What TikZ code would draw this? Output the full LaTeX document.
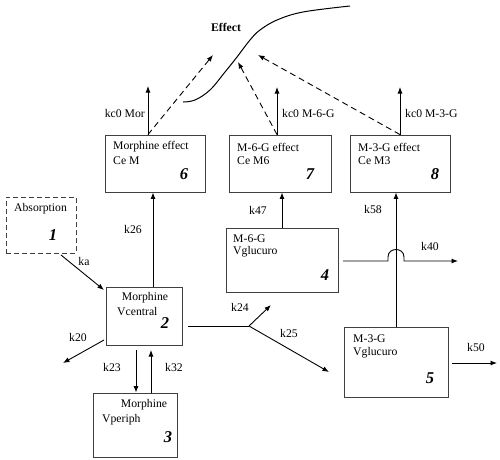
\documentclass[tikz,border=0pt]{standalone}
\usepackage{fontspec}
\setmainfont{Liberation Serif}
\usetikzlibrary{arrows.meta}
\begin{document}
\begin{tikzpicture}[x=1pt,y=-1pt,
  box/.style={draw=black!75, line width=0.9pt, inner sep=0pt},
  arr/.style={line width=0.9pt, -{Latex[length=6.5pt,width=5pt]}},
  darr/.style={arr, dash pattern=on 6pt off 4pt},
  txt/.style={font=\fontsize{11.7}{13}\selectfont, inner sep=0pt, anchor=west},
  lbl/.style={font=\fontsize{11.7}{13}\selectfont, inner sep=0pt},
  num/.style={font=\fontsize{16.5}{16.5}\selectfont\bfseries\itshape, inner sep=0pt}]
\useasboundingbox[fill=white] (0,0) rectangle (500,459);

% boxes
\node[box, dashed, dash pattern=on 5pt off 3pt, minimum width=70pt, minimum height=56pt] (b1) at (41,225) {};
\node[box, minimum width=76pt, minimum height=58pt] (b2) at (144,316) {};
\node[box, minimum width=84pt, minimum height=64pt] (b3) at (135,425) {};
\node[box, minimum width=112pt, minimum height=64pt] (b4) at (282,260) {};
\node[box, minimum width=104pt, minimum height=70pt] (b5) at (396,362) {};
\node[box, minimum width=100pt, minimum height=57pt] (b6) at (155,163.5) {};
\node[box, minimum width=102pt, minimum height=57pt] (b7) at (280,163.5) {};
\node[box, minimum width=100pt, minimum height=57pt] (b8) at (400,163.5) {};

% box texts
\node[txt] (t1a) at (14,209) {Absorption};
\node[num] (n1) at (53,235) {1};
\node[lbl] (t2a) at (145,298) {Morphine};
\node[txt] (t2b) at (117,312) {Vcentral};
\node[num] (n2) at (165,323) {2};
\node[lbl] (t3a) at (144,405) {Morphine};
\node[txt] (t3b) at (102,420) {Vperiph};
\node[num] (n3) at (168,437) {3};
\node[txt] (t4a) at (233,239) {M-6-G};
\node[txt] (t4b) at (233,252) {Vglucuro};
\node[num] (n4) at (325,275) {4};
\node[txt] (t5a) at (353,339) {M-3-G};
\node[txt] (t5b) at (353,353) {Vglucuro};
\node[num] (n5) at (430,378) {5};
\node[txt] (t6a) at (113,147) {Morphine effect};
\node[txt] (t6b) at (113,161) {Ce M};
\node[num] (n6) at (184,174) {6};
\node[txt] (t7a) at (237,147) {M-6-G effect};
\node[txt] (t7b) at (237,161) {Ce M6};
\node[num] (n7) at (310,174) {7};
\node[txt] (t8a) at (358,147) {M-3-G effect};
\node[txt] (t8b) at (358,161) {Ce M3};
\node[num] (n8) at (435,174) {8};

% effect curve
\node[font=\fontsize{11.7}{13}\selectfont\bfseries, inner sep=0pt] (eff) at (226,27) {Effect};
\draw[line width=1pt] plot[smooth, tension=0.6] coordinates {(183,102) (195,100) (210,90) (225,72) (237,57) (250,40) (260,30) (277,20) (303,12) (350,6)};

% free ends
\coordinate (e6) at (213,55);
\coordinate (e7) at (238,62);
\coordinate (e8) at (258,55);
\coordinate (k6) at (148,86);
\coordinate (k7) at (277,87);
\coordinate (k8) at (400,87);
\coordinate (kaS) at (61,255);
\coordinate (k20e) at (63,363);
\coordinate (jn) at (249,326);
\coordinate (k24e) at (271,305);
\coordinate (k25e) at (329,372);
\coordinate (k40e) at (458,261);
\coordinate (k50e) at (497,363);

% effect arrows
\draw[darr] (b6.north -| k6) -- (e6);
\draw[darr] (b7.north -| k7) -- (e7);
\draw[darr] (b8.north -| k8) -- (e8);
\draw[arr] (b6.north -| k6) -- (k6);
\draw[arr] (b7.north -| k7) -- (k7);
\draw[arr] (b8.north -| k8) -- (k8);
\node[lbl, anchor=east] (lk6) at (145,113) {kc0 Mor};
\node[lbl, anchor=west] (lk7) at (282,113) {kc0 M-6-G};
\node[lbl, anchor=west] (lk8) at (405,113) {kc0 M-3-G};

% transfers
\draw[arr] (kaS) -- (104,290);
\node[lbl] (lka) at (84,261) {ka};
\draw[arr] ([xshift=9pt]b2.north) -- ([xshift=9pt]b2.north |- b6.south);
\node[lbl] (l26) at (133,229) {k26};
\draw[arr] (104,340) -- (k20e);
\node[lbl] (l20) at (78,337) {k20};
\draw[arr] (136,350) -- (136,0 |- b3.north);
\node[lbl] (l23) at (112,367) {k23};
\draw[arr] (151,0 |- b3.north) -- (151,350);
\node[lbl] (l32) at (174,367) {k32};
\draw[line width=0.9pt] (188,326) -- (jn);
\draw[arr] (jn) -- (k24e);
\draw[arr] (jn) -- (k25e);
\node[lbl] (l24) at (240,307) {k24};
\node[lbl] (l25) at (289,333) {k25};
\draw[arr] (b4.north) -- (b4.north |- b7.south);
\node[lbl] (l47) at (258,210) {k47};
\draw[arr] (b5.north) -- (b5.north |- b8.south);
\node[lbl] (l58) at (373,209) {k58};
\draw[arr] (343,261) -- (388,261) -- (388,257) .. controls (388,247) and (404,247) .. (404,257) -- (404,261) -- (k40e);
\node[lbl] (l40) at (430,246) {k40};
\draw[arr] (452,363) -- (k50e);
\node[lbl] (l50) at (476,347) {k50};
\end{tikzpicture}
\end{document}
